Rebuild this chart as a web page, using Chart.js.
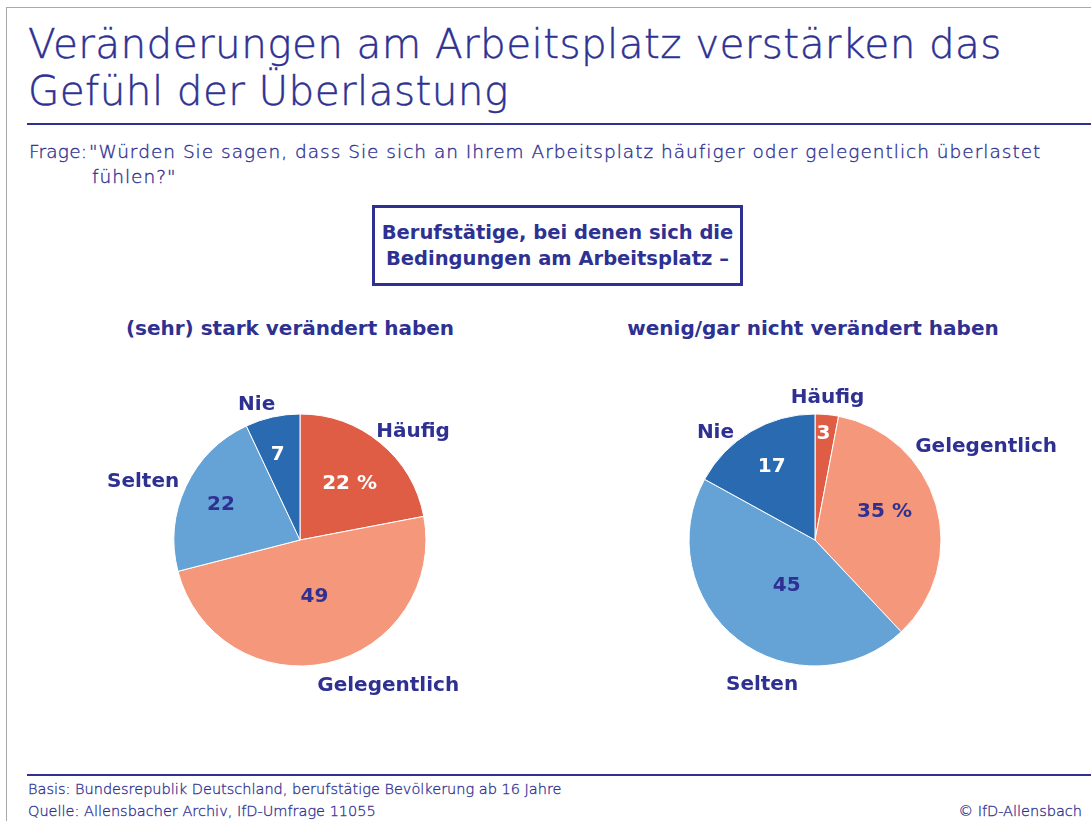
<!DOCTYPE html>
<html>
<head>
<meta charset="utf-8">
<script src="https://cdn.jsdelivr.net/npm/chart.js@4/dist/chart.umd.min.js"></script>
<style>
  html,body{margin:0;padding:0;}
  body{width:1091px;height:821px;background:#fff;position:relative;overflow:hidden;
       font-family:"DejaVu Sans","Liberation Sans",sans-serif;color:#2E3192;}
  .frame{position:absolute;left:6px;top:7px;width:1100px;height:830px;
         border-top:1.5px solid #a9a9a9;border-left:1.5px solid #a9a9a9;}
  .title{position:absolute;left:28px;top:21px;font-size:40.5px;line-height:47px;font-weight:200;
         white-space:nowrap;letter-spacing:0.4px;-webkit-text-stroke:0.45px #2E3192;}
  .rule{position:absolute;left:27px;right:0;height:2px;background:#2E3192;}
  .q{position:absolute;font-size:18.5px;line-height:25px;font-weight:200;white-space:nowrap;
     letter-spacing:1px;-webkit-text-stroke:0.35px #2E3192;}
  .box{position:absolute;left:372px;top:205px;width:371px;height:81px;box-sizing:border-box;
       border:3px solid #2E3192;display:flex;align-items:center;justify-content:center;
       text-align:center;font-weight:bold;font-size:19.5px;line-height:26px;}
  .sub{position:absolute;top:316px;font-weight:bold;font-size:20px;line-height:24px;
       white-space:nowrap;transform:translateX(-50%);}
  .foot{position:absolute;font-size:14.5px;line-height:18px;font-weight:200;white-space:nowrap;
        -webkit-text-stroke:0.3px #2E3192;}
  canvas{position:absolute;}
</style>
</head>
<body>
<div class="frame"></div>
<div class="title">Veränderungen am Arbeitsplatz verstärken das<br>Gefühl der Überlastung</div>
<div class="rule" style="top:123px"></div>
<div class="q" style="left:29px;top:139px;letter-spacing:0.2px">Frage:</div>
<div class="q" style="left:89px;top:139px">"Würden Sie sagen, dass Sie sich an Ihrem Arbeitsplatz häufiger oder gelegentlich überlastet</div>
<div class="q" style="left:92px;top:164px">fühlen?"</div>
<div class="box"><div>Berufstätige, bei denen sich die<br>Bedingungen am Arbeitsplatz –</div></div>
<div class="sub" style="left:290px">(sehr) stark verändert haben</div>
<div class="sub" style="left:813px">wenig/gar nicht verändert haben</div>
<canvas id="c1" width="520" height="340" style="left:40px;top:370px"></canvas>
<canvas id="c2" width="520" height="340" style="left:555px;top:370px"></canvas>
<div class="rule" style="top:774px"></div>
<div class="foot" style="left:28px;top:780px">Basis: Bundesrepublik Deutschland, berufstätige Bevölkerung ab 16 Jahre</div>
<div class="foot" style="left:28px;top:802px">Quelle: Allensbacher Archiv, IfD-Umfrage 11055</div>
<div class="foot" style="right:9px;top:802px">© IfD-Allensbach</div>

<script>
// ---- Data ----
const categories = ['Häufig', 'Gelegentlich', 'Selten', 'Nie'];
const strongChangeValues = [22, 49, 22, 7];
const weakChangeValues = [3, 35, 45, 17];
const strongPercentIndex = 0;
const weakPercentIndex = 1;

// ---- Styles / layout ----
const NAVY = '#2E3192';
const sliceColors = ['#E05D45', '#F5977A', '#65A3D7', '#2A6AB1'];
const valueTextColors = ['#ffffff', NAVY, NAVY, '#ffffff'];

const layoutStrong = {
  valueRadius: [0.60, 0.46, 0.69, 0.71],
  valueAngleShift: [1.4, -1.8, -0.5, -1.8],
  labelPos: [[0.897, -0.866], [0.70, 1.15], [-1.245, -0.47], [-0.344, -1.079]]
};
const layoutWeak = {
  valueRadius: [0.85, 0.60, 0.42, 0.68],
  valueAngleShift: [-0.9, -6.9, -5.5, 0.2],
  labelPos: [[0.099, -1.134], [1.358, -0.748], [-0.42, 1.14], [-0.79, -0.86]]
};

const pieLabelPlugin = {
  id: 'pieLabels',
  afterDatasetsDraw(chart, args, opts) {
    const ctx = chart.ctx;
    const meta = chart.getDatasetMeta(0);
    const values = chart.data.datasets[0].data;
    const lay = opts.layout;
    ctx.save();
    ctx.textAlign = 'center';
    ctx.textBaseline = 'middle';
    ctx.font = 'bold 20px "DejaVu Sans", sans-serif';
    meta.data.forEach((arc, i) => {
      const p = arc.getProps(['x', 'y', 'startAngle', 'endAngle', 'outerRadius'], true);
      const mid = (p.startAngle + p.endAngle) / 2 + lay.valueAngleShift[i] * Math.PI / 180;
      const rr = p.outerRadius * lay.valueRadius[i];
      const vx = p.x + Math.cos(mid) * rr;
      const vy = p.y + Math.sin(mid) * rr;
      const txt = values[i] + (i === opts.percentIndex ? ' %' : '');
      ctx.fillStyle = valueTextColors[i];
      ctx.fillText(txt, vx, vy + 1);
      const lp = lay.labelPos[i];
      ctx.fillStyle = NAVY;
      ctx.fillText(chart.data.labels[i], p.x + lp[0] * p.outerRadius, p.y + lp[1] * p.outerRadius + 1);
    });
    ctx.restore();
  }
};

function makePie(id, values, layout, percentIndex, padLR) {
  return new Chart(document.getElementById(id), {
    type: 'pie',
    data: {
      labels: categories,
      datasets: [{
        data: values,
        backgroundColor: sliceColors,
        borderColor: '#ffffff',
        borderWidth: 1,
        hoverOffset: 0,
        offset: 0
      }]
    },
    options: {
      responsive: false,
      animation: false,
      devicePixelRatio: 1,
      layout: { padding: { left: padLR, right: padLR, top: 43.5, bottom: 43.5 } },
      plugins: {
        legend: { display: false },
        tooltip: { enabled: false },
        title: { display: false },
        pieLabels: { layout: layout, percentIndex: percentIndex }
      }
    },
    plugins: [pieLabelPlugin]
  });
}

makePie('c1', strongChangeValues, layoutStrong, strongPercentIndex, 133.5);
makePie('c2', weakChangeValues, layoutWeak, weakPercentIndex, 133.5);
</script>
</body>
</html>
